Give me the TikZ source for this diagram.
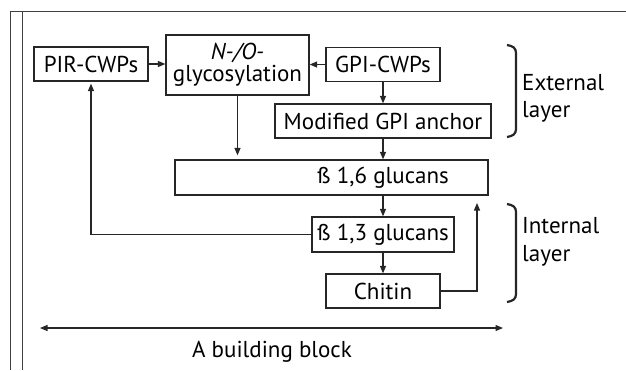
\documentclass[tikz,border=0pt]{standalone}
\usepackage{fontspec}
\setmainfont{PT Sans}
\usetikzlibrary{arrows.meta}
\begin{document}
\begin{tikzpicture}[x=1pt,y=-1pt,
  box/.style={draw=black!85,line width=1.3pt,inner sep=0pt,font=\fontsize{23}{22}\selectfont},
  txt/.style={inner sep=0pt,font=\fontsize{23}{22}\selectfont},
  arr/.style={draw=black!85,line width=1.2pt,-{Triangle[length=7.5pt,width=6pt]}},
  brace/.style={draw=black!85,line width=2.2pt},
  frame/.style={draw=black!75,line width=1pt}]
\useasboundingbox (0,0) rectangle (626,370);
% outer frame
\draw[frame] (10,370) -- (10,11) -- (626,11);
\draw[frame] (22,370) -- (22,11);
% boxes
\node[box,minimum width=114pt,minimum height=34pt] (pir) at (91,64) {PIR-CWPs};
\node[box,minimum width=143pt,minimum height=60pt,align=center] (glyc) at (237.5,65)
  {\textit{N-/O-}\\glycosylation};
\node[box,minimum width=114pt,minimum height=34pt] (gpi) at (383,64.5) {GPI-CWPs};
\node[box,minimum width=216pt,minimum height=34pt] (mod) at (383,121) {Modified GPI anchor};
\node[box,minimum width=313pt,minimum height=35pt] (b16) at (331.5,177.5) {};
\node[txt] (b16t) at (383,177.5) {ß 1,6 glucans};
\node[box,minimum width=142pt,minimum height=35pt] (b13) at (383,234.5) {ß 1,3 glucans};
\node[box,minimum width=114pt,minimum height=34pt] (chit) at (383,291) {Chitin};
% connectors
\draw[arr] (pir.east) -- (glyc.west |- pir.east);
\draw[arr] (gpi.west) -- (glyc.east |- gpi.west);
\draw[arr] (gpi.south) -- (mod.north);
\draw[arr] (mod.south) -- (b16.north -| mod.south);
\draw[arr] (glyc.south) -- ([yshift=4pt]b16.north -| glyc.south);
\draw[arr] (b16.south -| b13.north) -- (b13.north);
\draw[arr] (b13.south) -- (chit.north);
\coordinate (up) at (477,203);
\draw[arr] (chit.east) -| (up);
\draw[arr] (b13.west) -| ([yshift=-2pt]pir.south);
% layer braces
\draw[brace] (507,45) .. controls (513,46) and (516,48) .. (516,53) -- (516,129) .. controls (516,134) and (513,136) .. (507,137);
\draw[brace] (507,204) .. controls (513,205) and (516,207) .. (516,212) -- (516,294) .. controls (516,299) and (513,301) .. (507,302);
\node[txt,anchor=base west] (ext1) at (522,90) {External};
\node[txt,anchor=base west] (ext2) at (522,117) {layer};
\node[txt,anchor=base west] (int1) at (522,233) {Internal};
\node[txt,anchor=base west] (int2) at (522,261) {layer};
% building block
\coordinate (bl) at (40,328);
\coordinate (br) at (503,328);
\draw[draw=black!85,line width=1.2pt,{Triangle[length=7.5pt,width=6pt]}-{Triangle[length=7.5pt,width=6pt]}] (bl) -- (br);
\node[txt,anchor=base] (bb) at (272,357) {A building block};
\end{tikzpicture}
\end{document}
